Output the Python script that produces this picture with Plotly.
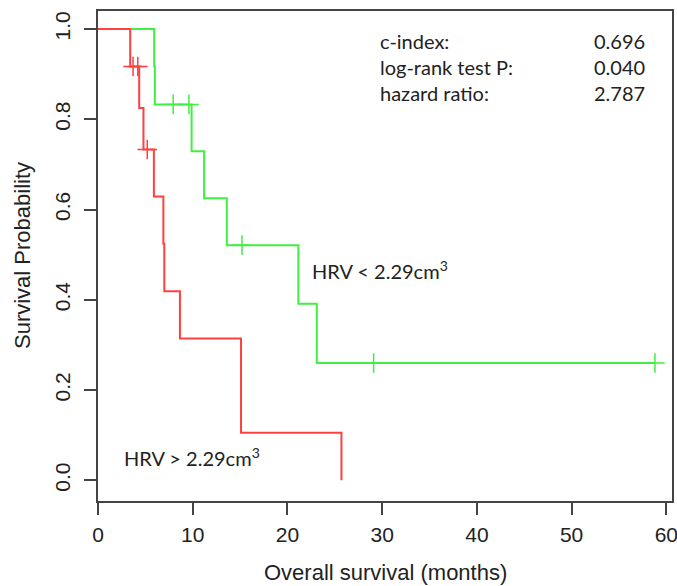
import plotly.graph_objects as go

# Kaplan-Meier step data
red_time = [0, 3.4, 4.35, 4.8, 5.9, 6.9, 7.0, 8.65, 15.1, 25.7]
red_surv = [1.0, 0.917, 0.825, 0.733, 0.629, 0.524, 0.419, 0.314, 0.105, 0.0]
red_cens_time = [3.7, 4.2, 5.2]
red_cens_surv = [0.917, 0.917, 0.733]

green_time = [0, 5.93, 6.0, 9.88, 11.2, 13.6, 21.15, 23.1, 58.8]
green_surv = [1.0, 0.917, 0.833, 0.729, 0.625, 0.521, 0.391, 0.26, 0.26]
green_cens_time = [7.94, 9.6, 15.2, 29.1, 58.8]
green_cens_surv = [0.833, 0.833, 0.521, 0.26, 0.26]

x_ticks = [0, 10, 20, 30, 40, 50, 60]
x_tick_labels = ["0", "10", "20", "30", "40", "50", "60"]
y_ticks = [0.0, 0.2, 0.4, 0.6, 0.8, 1.0]
y_tick_labels = ["0.0", "0.2", "0.4", "0.6", "0.8", "1.0"]

stat_labels = ["c-index:", "log-rank test P:", "hazard ratio:"]
stat_values = ["0.696", "0.040", "2.787"]

RED = "#ff4040"
GREEN = "#40f040"
AXIS = "#444444"
TXT = "#222222"

fig = go.Figure()
fig.add_trace(go.Scatter(x=green_time, y=green_surv, mode="lines", line_shape="hv",
                         line=dict(color=GREEN, width=2), showlegend=False))
fig.add_trace(go.Scatter(x=red_time, y=red_surv, mode="lines", line_shape="hv",
                         line=dict(color=RED, width=2), showlegend=False))
fig.add_trace(go.Scatter(x=green_cens_time, y=green_cens_surv, mode="markers",
                         marker=dict(symbol="cross-thin", size=14, line=dict(color=GREEN, width=1.5)),
                         showlegend=False, cliponaxis=False))
fig.add_trace(go.Scatter(x=red_cens_time, y=red_cens_surv, mode="markers",
                         marker=dict(symbol="cross-thin", size=14, line=dict(color=RED, width=1.5)),
                         showlegend=False, cliponaxis=False))

ann = []
row_y = [0.973, 0.916, 0.858]
for lab, val, yy in zip(stat_labels, stat_values, row_y):
    ann.append(dict(x=29.6, y=yy, xref="x", yref="y", text=lab, showarrow=False,
                    xanchor="left", yanchor="middle",
                    font=dict(family="Lato", size=20, color=TXT)))
    ann.append(dict(x=58.0, y=yy, xref="x", yref="y", text=val, showarrow=False,
                    xanchor="right", yanchor="middle",
                    font=dict(family="Lato", size=20, color=TXT)))
ann.append(dict(x=22.4, y=0.466, xref="x", yref="y", text="HRV &lt; 2.29cm<sup>3</sup>",
                showarrow=False, xanchor="left", yanchor="middle",
                font=dict(family="Lato", size=20, color=TXT)))
ann.append(dict(x=2.5, y=0.052, xref="x", yref="y", text="HRV &gt; 2.29cm<sup>3</sup>",
                showarrow=False, xanchor="left", yanchor="middle",
                font=dict(family="Lato", size=20, color=TXT)))
# axis titles
ann.append(dict(x=0.5, y=0, xref="paper", yref="paper", text="Overall survival (months)",
                showarrow=False, xanchor="center", yanchor="middle", yshift=-71,
                font=dict(family="Liberation Sans", size=22, color=TXT)))
ann.append(dict(x=0, y=0.5, xref="paper", yref="paper", text="Survival Probability",
                showarrow=False, xanchor="center", yanchor="middle", xshift=-76,
                textangle=-90,
                font=dict(family="Liberation Sans", size=22, color=TXT)))

fig.update_layout(
    width=677, height=586,
    margin=dict(l=98, r=5, t=11, b=85, autoexpand=False),
    paper_bgcolor="white", plot_bgcolor="white",
    annotations=ann,
    font=dict(family="Liberation Sans", color=TXT),
    xaxis=dict(range=[0, 60.6], tickvals=x_ticks, ticktext=x_tick_labels,
               ticks="outside", ticklen=12,
               tickwidth=1.5, tickcolor=AXIS, showline=True, mirror=True,
               linecolor=AXIS, linewidth=1.5, showgrid=False, zeroline=False,
               automargin=False, ticklabeloverflow="allow",
               tickfont=dict(family="Liberation Sans", size=21, color=TXT),
               ticklabelstandoff=2),
    yaxis=dict(range=[-0.046, 1.04], tickvals=y_ticks, ticktext=y_tick_labels,
               ticks="outside", ticklen=12, tickwidth=1.5, tickcolor=AXIS,
               showline=True, mirror=True, linecolor=AXIS, linewidth=1.5,
               showgrid=False, zeroline=False, tickangle=-90, automargin=False,
               ticklabeloverflow="allow",
               tickfont=dict(family="Liberation Sans", size=21, color=TXT),
               ticklabelstandoff=6),
)

# remove the browser's default page margin so the figure sits at the window origin
fig.write_html("out.html", config={"displayModeBar": False},
               post_script="document.body.style.margin='0';document.body.style.overflow='hidden';")
